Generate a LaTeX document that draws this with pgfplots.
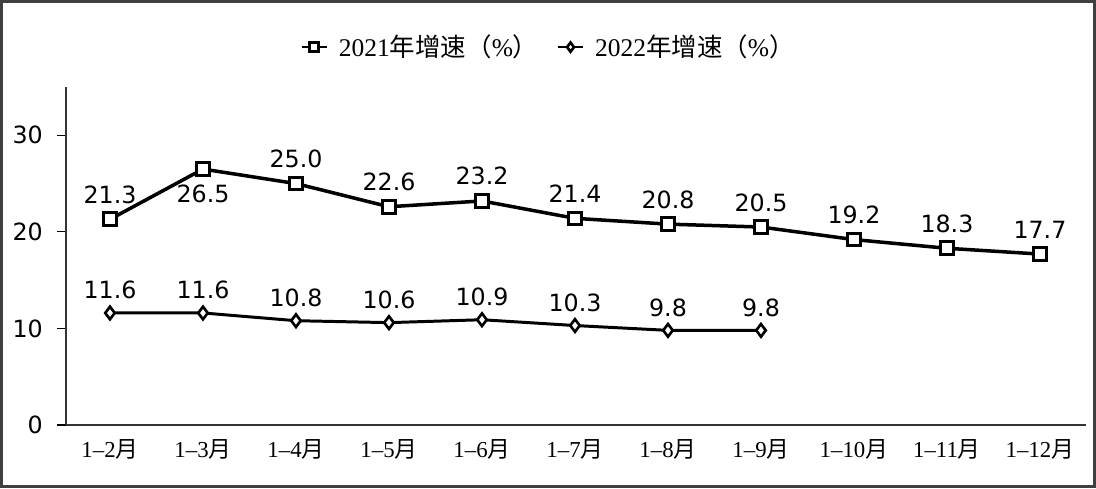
\documentclass[border=0pt]{standalone}
\usepackage{pgfplots}
\pgfplotsset{compat=1.18}
\usepackage{pgfplotstable}
\usepackage{fontspec}
\setmainfont{Liberation Serif}
\newfontfamily\dv{DejaVu Sans}
\newfontfamily\cjk{Noto Sans CJK SC}

% growth rates, cumulative months; dy = label baseline offset (cm)
\pgfplotstableread{
x y dy
0 21.3 0.32
1 26.5 -0.66
2 25.0 0.32
3 22.6 0.32
4 23.2 0.32
5 21.4 0.32
6 20.8 0.32
7 20.5 0.32
8 19.2 0.32
9 18.3 0.32
10 17.7 0.32
}\yrone
\pgfplotstableread{
x y dy
0 11.6 0.28
1 11.6 0.28
2 10.8 0.28
3 10.6 0.28
4 10.9 0.28
5 10.3 0.28
6 9.8 0.28
7 9.8 0.28
}\yrtwo

\begin{document}
\begin{tikzpicture}
\useasboundingbox (-1.32,-1.26) rectangle (20.6,8.5);
\draw[line width=1.2pt, black!75] (-1.29,-1.23) rectangle (20.57,8.47);
\begin{axis}[
    scale only axis,
    width=20.4cm, height=6.76cm,
    xmin=-0.473, xmax=10.495,
    ymin=0, ymax=35,
    axis x line*=bottom, axis y line*=left,
    axis line style={line width=0.9pt, black!80},
    xtick={0,...,10},
    xticklabels={1--2{\cjk 月},1--3{\cjk 月},1--4{\cjk 月},1--5{\cjk 月},1--6{\cjk 月},1--7{\cjk 月},1--8{\cjk 月},1--9{\cjk 月},1--10{\cjk 月},1--11{\cjk 月},1--12{\cjk 月}},
    x tick style={draw=none},
    ytick={0,10,20,30},
    y tick style={line width=0.6pt, black},
    tick align=outside,
    major tick length=0.18cm,
    x tick label style={font=\fontsize{13}{15}\selectfont, yshift=0.02cm},
    y tick label style={font=\fontsize{13.5}{15}\dv, xshift=-0.16cm},
    /pgf/number format/assume math mode=true,
    clip=false,
    legend columns=2,
    legend style={at={(0.474,1.118)}, anchor=center, draw=none, fill=none,
        font=\fontsize{14.5}{16}\selectfont,
        /tikz/every even column/.append style={column sep=0.3cm}},
    legend image code/.code={
        \draw[#1, mark=none, line width=1.2pt] (0cm,0cm) -- (0.5cm,0cm);
        \draw[#1, only marks, mark size=2.6pt] plot coordinates {(0.25cm,0cm)};},
    nodes near coords,
    point meta=explicit symbolic,
    visualization depends on={\thisrow{dy} \as \dy},
    every node near coord/.append style={font=\fontsize{13.5}{15}\dv, anchor=base, yshift=\dy cm, inner sep=0pt, black},
]
\addplot[black, line width=2pt, mark=square*, mark size=3.6pt,
    mark options={fill=white, line width=1.7pt, solid}]
    table[x=x, y=y, meta=y] {\yrone};
\addlegendentry{\hspace{0.15cm}2021{\cjk 年增速（}\%{\cjk ）}}
\addplot[black, line width=1.7pt, mark=diamond*, mark size=3.6pt,
    mark options={fill=white, line width=1.5pt, solid}]
    table[x=x, y=y, meta=y] {\yrtwo};
\addlegendentry{\hspace{0.15cm}2022{\cjk 年增速（}\%{\cjk ）}}
\end{axis}
\end{tikzpicture}
\end{document}
